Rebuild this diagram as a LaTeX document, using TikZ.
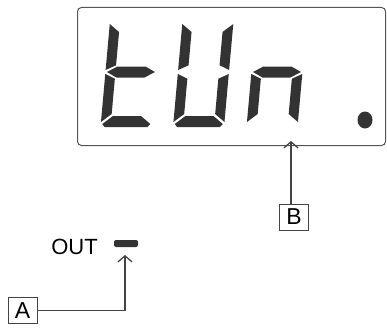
\documentclass[tikz,border=0pt]{standalone}
\usepackage{fontspec}
\newfontfamily\labfont{Liberation Sans}
\usetikzlibrary{arrows.meta}
\definecolor{segc}{HTML}{333333}
\definecolor{linec}{HTML}{444444}
\definecolor{panelc}{HTML}{555555}
\tikzset{
  seg/.style={fill=segc, draw=none},
  labbox/.style={draw=linec, line width=0.8pt, minimum width=29pt, minimum height=26pt, inner sep=0pt, font=\labfont\fontsize{23}{23}\selectfont},
  arr/.style={draw=linec, line width=1.2pt, -{Straight Barb[length=6pt,width=14pt,line width=1.3pt]}},
}
% segment shapes in local digit coordinates (W=51, H=105)
\def\dsegf{\fill[seg] (0,103) -- (10,95) -- (10,61.7) -- (0,57) -- cycle;}
\def\dsege{\fill[seg] (0,53) -- (10,48.3) -- (10,13) -- (0,5) -- cycle;}
\def\dsegd{\fill[seg] (1.5,3) -- (11.5,11) -- (39.5,11) -- (49.5,3) -- (47,0) -- (4,0) -- cycle;}
\def\dsegb{\fill[seg] (51,103) -- (51,57) -- (41,61.7) -- (41,95) -- cycle;}
\def\dsegc{\fill[seg] (51,53) -- (51,5) -- (41,13) -- (41,48.3) -- cycle;}
\def\dsegg{\fill[seg] (1.5,55) -- (11.5,60.5) -- (39.5,60.5) -- (49.5,55) -- (39.5,49.5) -- (11.5,49.5) -- cycle;}
\begin{document}
\begin{tikzpicture}[x=1pt,y=1pt]
\useasboundingbox (0,0) rectangle (387,-329);
% panel
\draw[panelc, line width=1pt, rounded corners=4pt] (77.5,-7.5) rectangle (385.5,-145.5);
% digit t
\begin{scope}[shift={(100.5,-127)}, xslant=0.09]
  \dsegf \dsege \dsegd \dsegg
\end{scope}
% digit U
\begin{scope}[shift={(173,-127)}, xslant=0.09]
  \dsegf \dsegb \dsege \dsegc \dsegd
\end{scope}
% digit n
\begin{scope}[shift={(246.5,-127)}, xslant=0.09]
  \dsege \dsegc \dsegg
\end{scope}
% decimal point
\fill[segc] (365,-120) ellipse [x radius=7.5, y radius=8.5];
% OUT indicator
\node[anchor=base east, inner sep=0pt, font=\labfont\fontsize{22}{22}\selectfont] (outlab) at (98,-254) {OUT};
\node[fill=segc, rounded corners=2pt, minimum width=24pt, minimum height=7pt, inner sep=0pt] (bar) at (126,-243.5) {};
\coordinate (atip) at (125,-255);
% labels
\node[labbox] (A) at (22.5,-310.5) {A};
\node[labbox] (B) at (294,-217) {B};
\coordinate (btip) at (291,-141);
% connectors
\draw[arr] (A.east) -| (atip);
\draw[arr] (btip |- B.north) -- (btip);
\end{tikzpicture}
\end{document}
